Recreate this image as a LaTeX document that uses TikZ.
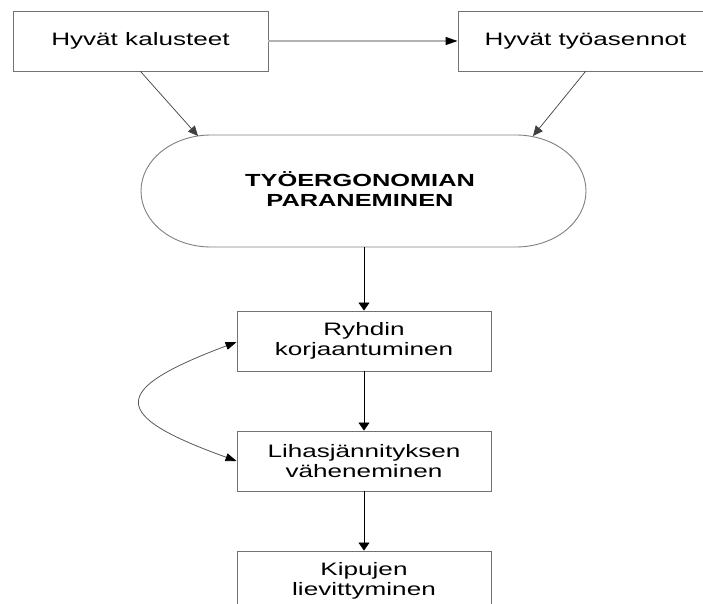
\documentclass[tikz,border=0pt]{standalone}
\usepackage{fontspec}
\setmainfont{Liberation Sans}[FakeStretch=1.45]
\usetikzlibrary{arrows.meta}
\begin{document}
\begin{tikzpicture}[x=1pt,y=1pt,
  box/.style={draw=black!55,line width=0.9pt,fill=white,minimum width=254pt,minimum height=60pt,inner sep=0pt,align=center,font=\fontsize{18}{20}\selectfont},
  conn/.style={draw=black,line width=0.8pt,-{Triangle[length=8pt,width=11pt]}},
  diag/.style={draw=black!75,line width=0.7pt,-{Triangle[length=10pt,width=9pt]}},
  hconn/.style={draw=black!30,line width=1.3pt,-{Triangle[length=12pt,width=8pt,color=black]}},
  curve/.style={draw=black!65,line width=0.8pt,{Triangle[length=11pt,width=8pt,color=black]}-{Triangle[length=11pt,width=8pt,color=black]}}]
\useasboundingbox (0,0) rectangle (703,-604);
\clip (0,0) rectangle (703,-604);
\fill[white] (0,0) rectangle (703,-604);
% top boxes
\node[box,minimum width=255pt] (b1) at (140.5,-41) {Hyvät kalusteet};
\node[box,minimum width=255pt] (b2) at (585.5,-41) {Hyvät työasennot};
% stadium
\draw[black!50,line width=0.9pt,fill=white] (211,-135) -- (516,-135)
  arc[start angle=90,end angle=-90,x radius=70,y radius=56] -- (211,-247)
  arc[start angle=270,end angle=90,x radius=70,y radius=56] -- cycle;
\node[align=center,font=\fontsize{17.5}{20}\selectfont\bfseries] (erg) at (360,-189) {TYÖERGONOMIAN\\PARANEMINEN};
\coordinate (t1) at (198,-136);
\coordinate (t2) at (533,-136);
\coordinate (ergs) at (364,-247);
% lower boxes
\node[box] (ry) at (364,-341) {Ryhdin\\korjaantuminen};
\node[box] (li) at (364,-461) {Lihasjännityksen\\väheneminen};
\node[box] (ki) at (364,-581) {Kipujen\\lievittyminen};
% connectors
\draw[hconn] (b1.east) -- (b2.west);
\draw[diag] (b1.south) -- (t1);
\draw[diag] (b2.south) -- (t2);
\draw[conn] (ergs) -- (ry.north);
\draw[conn] (ry.south) -- (li.north);
\draw[conn] (li.south) -- (ki.north);
\draw[curve] ([yshift=-1pt]ry.west) .. controls (109,-390) and (109,-415) .. (li.west);
\end{tikzpicture}
\end{document}
